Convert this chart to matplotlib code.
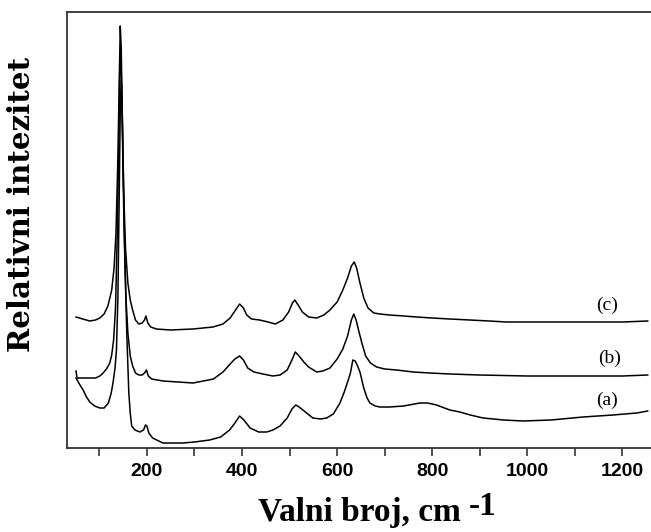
import matplotlib
matplotlib.use("Agg")
import matplotlib.pyplot as plt

# Raman spectra (intensity in arbitrary units)
wn_c = [51, 65, 80, 92, 101, 110, 118, 126, 131, 135, 139, 142, 144, 146, 148, 151, 155, 160, 165, 170,
        176, 183, 190, 195, 198, 202, 208, 220, 250, 297, 339, 360, 375, 385, 395, 403, 410, 420, 437, 455,
        470, 486, 498, 506, 511, 518, 527, 540, 557, 572, 585, 600, 612, 622, 630, 636, 641, 648, 656, 665,
        677, 690, 710, 740, 767, 800, 837, 879, 920, 956, 1000, 1100, 1200, 1253]
int_c = [131, 129, 127, 128, 130, 134, 142, 158, 180, 215, 290, 370, 422, 400, 340, 260, 200, 165, 148, 138,
         128, 124, 125, 128, 132, 125, 121, 119, 118, 119, 121, 124, 130, 137, 144, 140, 133, 129, 128, 126,
         124, 128, 136, 145, 148, 143, 136, 131, 130, 133, 138, 146, 158, 170, 182, 186, 180, 165, 150, 140,
         135, 134, 133, 132, 131, 130, 129, 128, 127, 126, 126, 126, 126, 127]

wn_b = [51, 53, 65, 80, 92, 101, 108, 115, 122, 126, 130, 134, 138, 141, 143, 145, 147, 149, 152, 156,
        160, 165, 170, 176, 183, 190, 195, 199, 203, 210, 234, 297, 340, 360, 375, 385, 395, 403, 412, 425,
        444, 465, 480, 495, 505, 512, 520, 530, 540, 557, 570, 585, 600, 612, 622, 630, 635, 640, 645, 652,
        660, 670, 683, 700, 725, 760, 795, 837, 900, 1000, 1100, 1200, 1253]
int_b = [77, 70, 70, 70, 70, 72, 75, 79, 85, 93, 108, 140, 220, 310, 380, 392, 360, 300, 220, 150,
         115, 92, 82, 75, 73, 73, 75, 78, 72, 69, 67, 65, 69, 76, 84, 89, 92, 88, 80, 76,
         74, 72, 73, 78, 88, 96, 92, 86, 81, 76, 77, 80, 89, 99, 112, 128, 134, 128, 118, 105,
         92, 85, 81, 79, 78, 76, 75, 74, 73, 72, 72, 72, 73]

wn_a = [51, 58, 66, 73, 80, 90, 101, 110, 119, 125, 129, 133, 136, 139, 142, 144, 146, 148, 151, 154,
        158, 162, 165, 168, 175, 185, 193, 197, 200, 204, 212, 225, 234, 276, 300, 332, 355, 374, 385, 395,
        404, 417, 435, 452, 465, 480, 495, 505, 513, 520, 536, 549, 565, 578, 592, 606, 615, 622, 628, 633,
        638, 643, 648, 656, 663, 669, 680, 690, 710, 740, 774, 790, 809, 837, 858, 880, 907, 950, 991, 1050,
        1117, 1180, 1230, 1253]
int_a = [70, 64, 58, 51, 46, 42, 40, 40, 45, 55, 66, 80, 98, 150, 260, 340, 368, 340, 260, 180,
         110, 55, 35, 22, 18, 16, 18, 23, 22, 15, 10, 7, 5, 5, 6, 8, 11, 18, 25, 32,
         28, 20, 16, 16, 18, 22, 30, 39, 43, 41, 35, 30, 29, 30, 34, 45, 56, 66, 75, 88,
         87, 82, 76, 60, 50, 45, 42, 41, 41, 42, 45, 45, 43, 38, 36, 33, 30, 28, 27, 28,
         31, 33, 35, 37]

labels = ["(a)", "(b)", "(c)"]
label_x = [1167, 1173, 1167]
label_y = [48, 90, 143]

fig = plt.figure(figsize=(6.51, 5.32), dpi=100)
ax = fig.add_axes([67 / 651, 84 / 532, 584 / 651, 436 / 532])

for wn, it in [(wn_a, int_a), (wn_b, int_b), (wn_c, int_c)]:
    ax.plot(wn, it, color="black", lw=1.1)

for lab, lx, ly in zip(labels, label_x, label_y):
    ax.text(lx, ly, lab, ha="center", va="center", fontsize=14, family="Liberation Serif")

ax.set_xlim(32, 1260)
ax.set_ylim(0, 436)
ax.set_xticks(range(100, 1300, 100))
ax.set_xticklabels([str(v) if v % 200 == 0 else "" for v in range(100, 1300, 100)])
ax.set_yticks([])
ax.tick_params(axis="x", direction="out", length=6, width=1.2, color="#333333", pad=5)
for t in ax.get_xticklabels():
    t.set_fontfamily("Liberation Sans")
    t.set_fontweight("bold")
    t.set_fontsize(14)
ax.spines["right"].set_visible(False)
for s in ["left", "top", "bottom"]:
    ax.spines[s].set_linewidth(1.3)
    ax.spines[s].set_color("#333333")

# axis titles
xl = fig.text(258 / 651, 1 - 521 / 532, "Valni broj, cm", ha="left", va="baseline",
              fontsize=24, fontweight="bold", family="Liberation Serif")
fig.canvas.draw()
bb = xl.get_window_extent()
fig.text((bb.x1 + 8) / 651, 1 - 515 / 532, "-1", ha="left", va="baseline",
         fontsize=24, fontweight="bold", family="Liberation Serif")
fig.text(22 / 651, 1 - 204 / 532, "Relativni intezitet", ha="center", va="center", rotation=90,
         fontsize=21, fontweight="bold", family="DejaVu Serif")

fig.savefig("out.png", dpi=100)
